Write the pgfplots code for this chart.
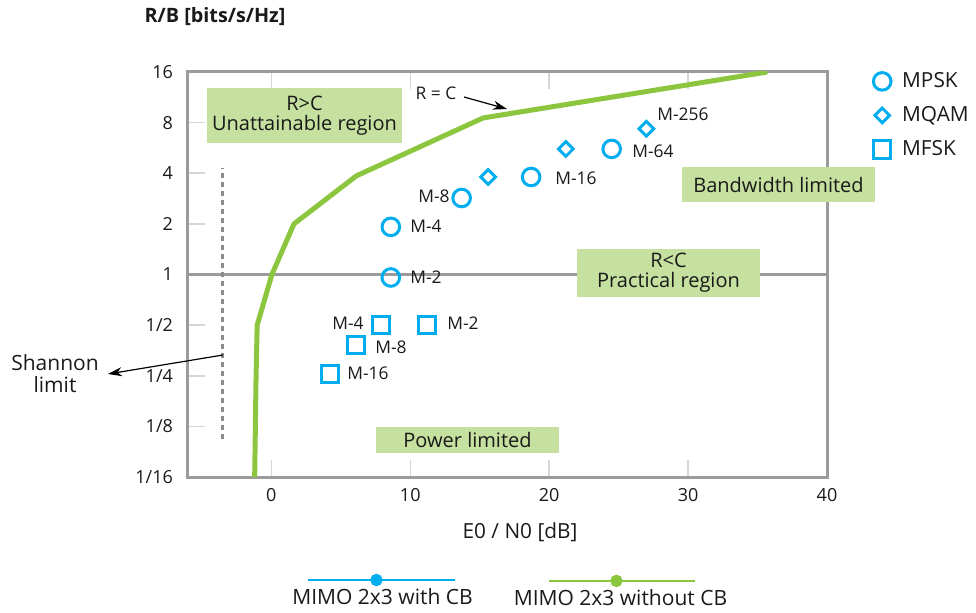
\documentclass[border=0pt]{standalone}
\usepackage{pgfplots}
\pgfplotsset{compat=1.18}
\usepackage{fontspec}
\setmainfont{Open Sans}
\usetikzlibrary{arrows.meta}
\definecolor{sgreen}{HTML}{8CC63F}
\definecolor{scyan}{HTML}{00AEEF}
\definecolor{boxgreen}{HTML}{C5E09F}
\definecolor{framegray}{HTML}{9B9B9D}
\definecolor{tickgray}{HTML}{D6D6D6}
\definecolor{dashgray}{HTML}{8C8C8E}
\definecolor{txt}{HTML}{1A1A1A}
\begin{document}
\begin{tikzpicture}[font=\fontsize{9}{11}\selectfont, text=txt]
\begin{scope}[x=0.5pt,y=-0.5pt,shift={(-94pt,238.5pt)}]
  \useasboundingbox (0,0) rectangle (976,611);
\end{scope}
\begin{axis}[
  at={(0,0)}, anchor=south west,
  scale only axis, width=319.5pt, height=202.5pt,
  xmin=-6, xmax=40,
  ymode=log, log basis y=2, ymin=0.0625, ymax=16,
  xtick={0,10,20,30,40}, xticklabels={0,10,20,30,40},
  ytick={0.0625,0.125,0.25,0.5,1,2,4,8,16},
  yticklabels={1/16,1/8,1/4,1/2,1,2,4,8,16},
  tick align=inside, major tick length=8.5pt,
  tick style={draw=tickgray, line width=0.75pt},
  ytick pos=left,
  xticklabel style={yshift=-2pt},
  yticklabel style={xshift=-4pt},
  axis line style={draw=framegray, line width=1.5pt},
  extra y ticks={1}, extra y tick labels={},
  extra y tick style={grid=major, major grid style={draw=framegray, line width=1.25pt}, major tick length=0pt},
  xlabel={E0 / N0 [dB]},
  xlabel style={at={(axis description cs:0.5196,-0.1358)}, anchor=center, font=\fontsize{10.4}{12}\selectfont},
  ylabel={R/B [bits/s/Hz]},
  ylabel style={rotate=-90, at={(axis description cs:0.0423,1.138)}, anchor=center, font=\bfseries\fontsize{9.9}{12}\selectfont},
  legend style={draw=none, fill=none, at={(axis description cs:1.072,1.01)}, anchor=north west,
    row sep=4pt, font=\fontsize{10.4}{12}\selectfont, inner sep=0pt, legend cell align=left},
  legend image code/.code={\draw[#1] plot coordinates {(0pt,0pt)}; \path (7.8pt,0pt);},
]
\addplot[forget plot, sgreen, line width=2.5pt, line join=round] coordinates {
  (-1.2,0.0625) (-1.15,0.125) (-1.1,0.25) (-1.02,0.5) (0.04,1)
  (1.63,2) (6.12,3.86) (15.25,8.53) (35.7,16)};
\addplot[forget plot, dashgray, line width=1.5pt, dash pattern=on 2.5pt off 2pt] coordinates {
  (-3.5,0.105) (-3.5,4.3)};
\addplot[only marks, scyan, mark=o, mark size=4.4pt, mark options={line width=1.5pt}] coordinates {
  (8.6,0.96) (8.6,1.92) (13.7,2.85) (18.7,3.8) (24.5,5.58)};
\addlegendentry{MPSK}
\addplot[only marks, scyan, mark=square, mark size=2.6pt, mark options={rotate=45, line width=1.5pt}] coordinates {
  (15.6,3.8) (21.2,5.58) (27.0,7.35)};
\addlegendentry{MQAM}
\addplot[only marks, scyan, mark=square, mark size=4.3pt, mark options={line width=1.5pt}] coordinates {
  (7.9,0.5) (11.2,0.5) (6.1,0.38) (4.2,0.256)};
\addlegendentry{MFSK}
\end{axis}
% bottom legend, entry 1
\begin{axis}[
  at={(0,0)}, anchor=south west, scale only axis, width=319.5pt, height=202.5pt,
  hide axis, xmin=0, xmax=1, ymin=0, ymax=1,
  legend style={draw=none, fill=none, at={(axis description cs:0.1565,-0.2988)}, anchor=west,
    font=\fontsize{10.5}{12}\selectfont, inner sep=0pt},
  legend image code/.code={\draw[overlay,#1,line width=1pt,mark=*,mark size=2.6pt,mark repeat=2,mark phase=2]
     plot coordinates {(10pt,9pt) (44pt,9pt) (83.5pt,9pt)};},
]
\addlegendimage{scyan}
\addlegendentry{MIMO 2x3 with CB}
\end{axis}
\begin{axis}[
  at={(0,0)}, anchor=south west, scale only axis, width=319.5pt, height=202.5pt,
  hide axis, xmin=0, xmax=1, ymin=0, ymax=1,
  legend style={draw=none, fill=none, at={(axis description cs:0.503,-0.301)}, anchor=west,
    font=\fontsize{10.5}{12}\selectfont, inner sep=0pt},
  legend image code/.code={\draw[overlay,#1,line width=1pt,mark=*,mark size=2.6pt,mark repeat=2,mark phase=2]
     plot coordinates {(19.8pt,9pt) (53.3pt,9pt) (92.8pt,9pt)};},
]
\addlegendimage{sgreen}
\addlegendentry{MIMO 2x3 without CB}
\end{axis}
\begin{scope}[x=0.5pt,y=-0.5pt,shift={(-94pt,238.5pt)}]
  \tikzset{gbox/.style={fill=boxgreen, inner sep=0pt, align=center, font=\fontsize{10}{10}\selectfont}}
  \node[gbox, minimum width=97.5pt, minimum height=27.5pt] at (304.5,115.5) {R>C\\Unattainable region};
  \node[gbox, minimum width=96.5pt, minimum height=17.5pt] at (778.5,184.5) {Bandwidth limited};
  \node[gbox, minimum width=91.5pt, minimum height=24pt] at (668.5,273) {R<C\\Practical region};
  \node[gbox, minimum width=91.5pt, minimum height=13pt] at (467.5,440) {Power limited};
  \tikzset{lab/.style={inner sep=0pt, font=\fontsize{8.7}{10}\selectfont}}
  \node[lab, anchor=west] at (410,277) {M-2};
  \node[lab, anchor=west] at (410,226) {M-4};
  \node[lab, anchor=east] at (450,196) {M-8};
  \node[lab, anchor=west] at (555,178) {M-16};
  \node[lab, anchor=west] at (632,151) {M-64};
  \node[lab, anchor=west] at (657,114) {M-256};
  \node[lab, anchor=east] at (364,323) {M-4};
  \node[lab, anchor=west] at (447,323) {M-2};
  \node[lab, anchor=west] at (375,347) {M-8};
  \node[lab, anchor=west] at (347,373) {M-16};
  \node[lab] at (436,93) {R = C};
  \draw[line width=0.6pt, -{Stealth[length=7pt,width=4.5pt]}] (464,97) -- (507,109);
  \draw[line width=0.6pt, -{Stealth[length=7pt,width=4.5pt]}] (223,355) -- (108,374);
  \node[align=center, inner sep=0pt, font=\fontsize{10.5}{11}\selectfont] at (55,374) {Shannon\\limit};
\end{scope}
\end{tikzpicture}
\end{document}
